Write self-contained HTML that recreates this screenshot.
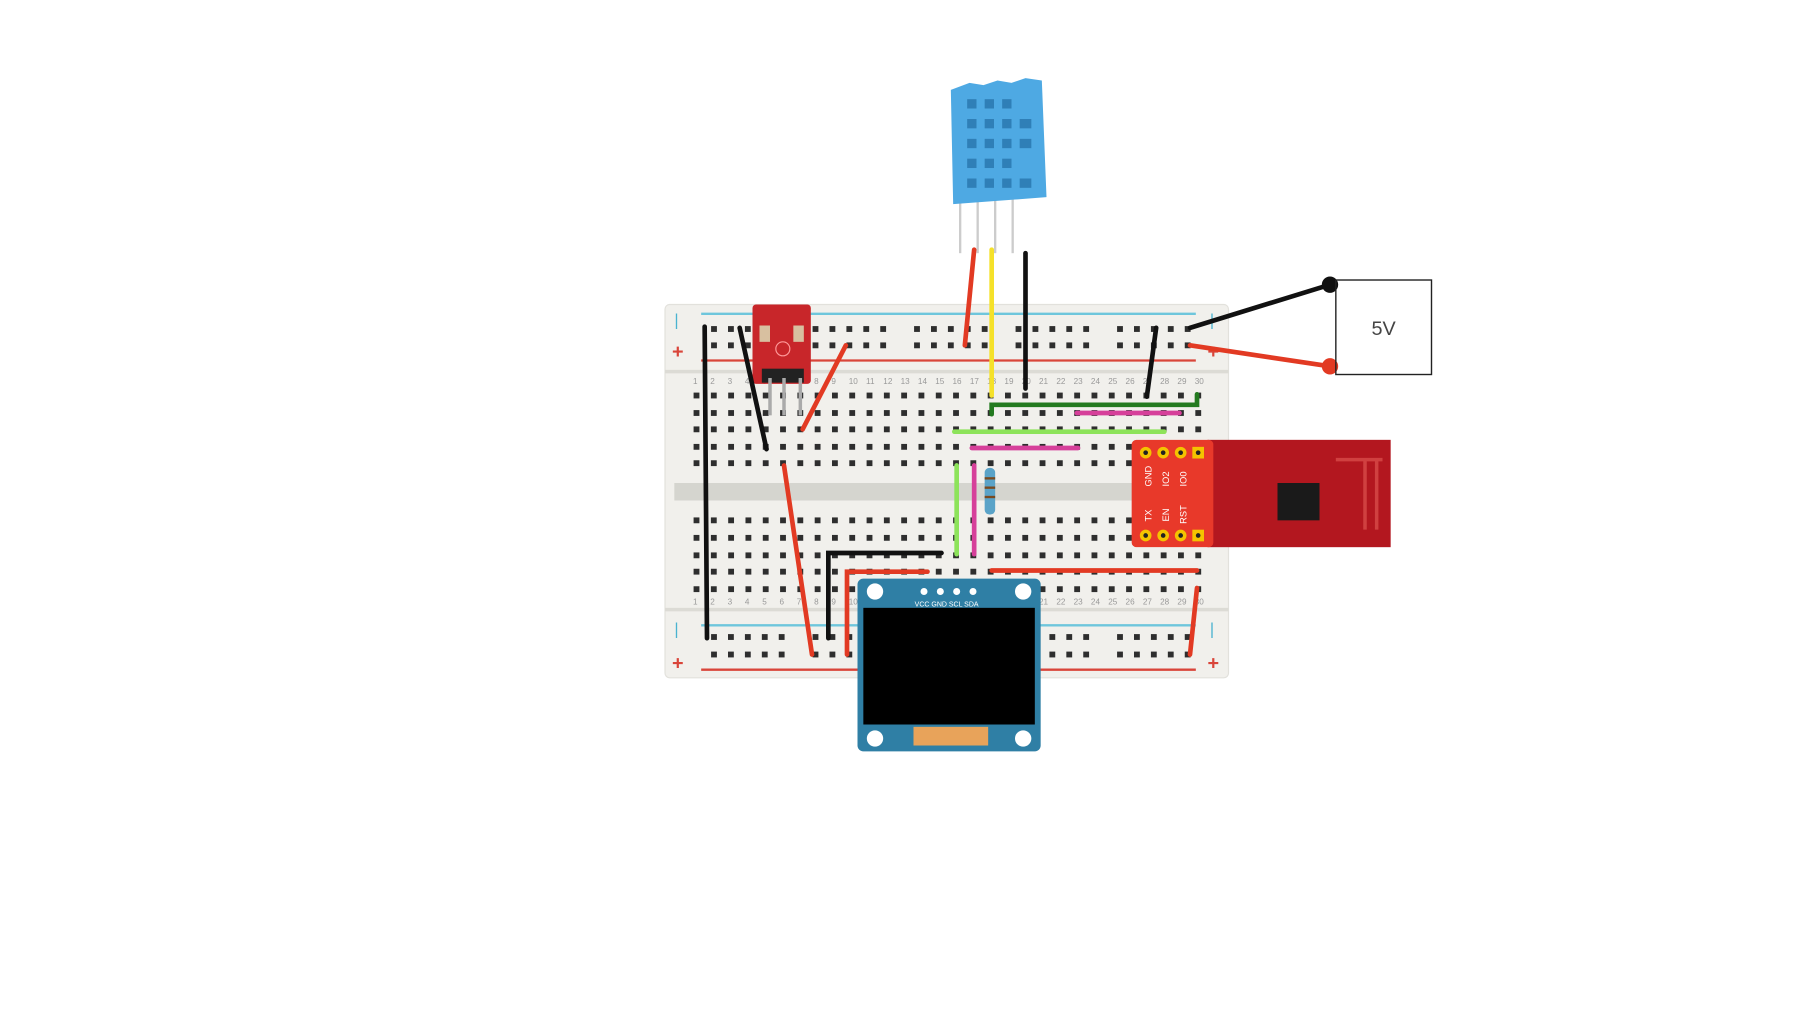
<!DOCTYPE html>
<html><head><meta charset="utf-8"><style>html,body{margin:0;padding:0;background:#fff}svg{display:block}</style></head>
<body>
<svg width="1820" height="1024" viewBox="0 0 1560 877.7" xmlns="http://www.w3.org/2000/svg" font-family="Liberation Sans, sans-serif">
<rect width="1560" height="878" fill="#fff"/>
<g transform="translate(-5,-1)">
<rect x="575" y="262" width="483" height="320" rx="4" fill="#f1f0ec" stroke="#e2e1dc"/>
<rect x="575" y="318" width="483" height="3" fill="#dcdbd5"/>
<rect x="575" y="522" width="483" height="3" fill="#dcdbd5"/>
<rect x="583" y="415" width="468" height="15" fill="#d5d5cf"/>
<line x1="606" y1="270" x2="1030" y2="270" stroke="#6ec6dc" stroke-width="2"/>
<line x1="606" y1="310" x2="1030" y2="310" stroke="#d9453a" stroke-width="2"/>
<line x1="606" y1="537" x2="1030" y2="537" stroke="#6ec6dc" stroke-width="2"/>
<line x1="606" y1="575" x2="1030" y2="575" stroke="#d9453a" stroke-width="2"/>
<text x="583" y="280" fill="#4ab3d0" font-size="14">|</text>
<text x="1042" y="280" fill="#4ab3d0" font-size="14">|</text>
<text x="581" y="308" fill="#d9453a" font-size="17" font-weight="bold">+</text>
<text x="1040" y="308" fill="#d9453a" font-size="17" font-weight="bold">+</text>
<text x="583" y="545" fill="#4ab3d0" font-size="14">|</text>
<text x="1042" y="545" fill="#4ab3d0" font-size="14">|</text>
<text x="581" y="575" fill="#d9453a" font-size="17" font-weight="bold">+</text>
<text x="1040" y="575" fill="#d9453a" font-size="17" font-weight="bold">+</text>
<g fill="#2e2e2e" id="hg"></g>
<g font-size="7" fill="#999" id="lbl"></g>
<g>
<line x1="828" y1="172" x2="828" y2="218" stroke="#ccc" stroke-width="2"/>
<line x1="843" y1="172" x2="843" y2="218" stroke="#ccc" stroke-width="2"/>
<line x1="858" y1="172" x2="858" y2="218" stroke="#ccc" stroke-width="2"/>
<line x1="873" y1="172" x2="873" y2="218" stroke="#ccc" stroke-width="2"/>
<path d="M820 78 L836 72 L848 74 L860 70 L872 72 L884 68 L898 70 L902 170 L822 176 Z" fill="#4ea9e3"/>
<g fill="#2f7fb7">
<rect x="834" y="86" width="8" height="8"/><rect x="849" y="86" width="8" height="8"/><rect x="864" y="86" width="8" height="8"/>
<rect x="834" y="103" width="8" height="8"/><rect x="849" y="103" width="8" height="8"/><rect x="864" y="103" width="8" height="8"/><rect x="879" y="103" width="10" height="8"/>
<rect x="834" y="120" width="8" height="8"/><rect x="849" y="120" width="8" height="8"/><rect x="864" y="120" width="8" height="8"/><rect x="879" y="120" width="10" height="8"/>
<rect x="834" y="137" width="8" height="8"/><rect x="849" y="137" width="8" height="8"/><rect x="864" y="137" width="8" height="8"/>
<rect x="834" y="154" width="8" height="8"/><rect x="849" y="154" width="8" height="8"/><rect x="864" y="154" width="8" height="8"/><rect x="879" y="154" width="10" height="8"/>
</g>
</g>
<rect x="650" y="262" width="50" height="68" rx="3" fill="#c8262a"/>
<circle cx="676" cy="300" r="6" fill="none" stroke="#f99" stroke-width="1"/>
<rect x="656" y="280" width="9" height="14" fill="#d8c0a0"/><rect x="685" y="280" width="9" height="14" fill="#d8c0a0"/>
<rect x="658" y="317" width="36" height="12" fill="#222"/>
<g stroke="#aaa" stroke-width="3"><line x1="665" y1="325" x2="665" y2="357"/><line x1="677" y1="325" x2="677" y2="357"/><line x1="691" y1="325" x2="691" y2="357"/></g>
<rect x="1040" y="378" width="157" height="92" fill="#b3171f"/>
<rect x="1100" y="415" width="36" height="32" fill="#1a1a1a"/>
<path d="M1150 395 h40 M1175 395 v60 M1185 395 v60" stroke="#d04040" stroke-width="3" fill="none"/>
<rect x="975" y="378" width="70" height="92" rx="4" fill="#e8392a"/>
<g fill="#f4c300"><circle cx="987" cy="389" r="5"/><circle cx="1002" cy="389" r="5"/><circle cx="1017" cy="389" r="5"/><rect x="1027" y="384" width="10" height="10"/>
<circle cx="987" cy="460" r="5"/><circle cx="1002" cy="460" r="5"/><circle cx="1017" cy="460" r="5"/><rect x="1027" y="455" width="10" height="10"/></g>
<g fill="#222"><circle cx="987" cy="389" r="2"/><circle cx="1002" cy="389" r="2"/><circle cx="1017" cy="389" r="2"/><circle cx="1032" cy="389" r="2"/><circle cx="987" cy="460" r="2"/><circle cx="1002" cy="460" r="2"/><circle cx="1017" cy="460" r="2"/><circle cx="1032" cy="460" r="2"/></g>
<g fill="#fff" font-size="8"><text transform="translate(992,418) rotate(-90)">GND</text><text transform="translate(1007,418) rotate(-90)">IO2</text><text transform="translate(1022,418) rotate(-90)">IO0</text><text transform="translate(992,448) rotate(-90)">TX</text><text transform="translate(1007,448) rotate(-90)">EN</text><text transform="translate(1022,450) rotate(-90)">RST</text></g>
<rect x="740" y="497" width="157" height="148" rx="5" fill="#2f7fa5"/>
<circle cx="755" cy="508" r="7" fill="#fff"/><circle cx="882" cy="508" r="7" fill="#fff"/><circle cx="755" cy="634" r="7" fill="#fff"/><circle cx="882" cy="634" r="7" fill="#fff"/>
<g fill="#fff"><circle cx="797" cy="508" r="3"/><circle cx="811" cy="508" r="3"/><circle cx="825" cy="508" r="3"/><circle cx="839" cy="508" r="3"/></g>
<text x="789" y="521" font-size="6" fill="#fff">VCC GND SCL SDA</text>
<rect x="745" y="522" width="147" height="100" fill="#000"/>
<rect x="788" y="624" width="64" height="16" fill="#e8a35a"/>
<g stroke-width="4" stroke-linecap="round" fill="none">
<line x1="609" y1="281" x2="611" y2="548" stroke="#111"/>
<line x1="639" y1="282" x2="662" y2="386" stroke="#111"/>
<line x1="730" y1="297" x2="693" y2="369" stroke="#e23a23"/>
<line x1="677" y1="400" x2="701" y2="562" stroke="#e23a23"/>
<polyline points="715,548 715,475 812,475" stroke="#111"/>
<polyline points="731,562 731,491 800,491" stroke="#e23a23"/>
<line x1="840" y1="215" x2="832" y2="297" stroke="#e23a23"/>
<line x1="855" y1="215" x2="855" y2="340" stroke="#f5e12a"/>
<line x1="884" y1="218" x2="884" y2="334" stroke="#111"/>
<polyline points="855,356 855,348 1031,348 1031,339" stroke="#237a1f"/>
<line x1="928" y1="355" x2="1016" y2="355" stroke="#d6409a"/>
<line x1="823" y1="371" x2="1003" y2="371" stroke="#8de35a"/>
<line x1="838" y1="385" x2="929" y2="385" stroke="#d6409a"/>
<line x1="825" y1="400" x2="825" y2="476" stroke="#8de35a"/>
<line x1="840" y1="400" x2="840" y2="476" stroke="#d6409a"/>
<line x1="855" y1="490" x2="1031" y2="490" stroke="#e23a23"/>
<line x1="1031" y1="505" x2="1025" y2="562" stroke="#e23a23"/>
<line x1="996" y1="282" x2="988" y2="341" stroke="#111"/>
<line x1="1025" y1="282" x2="1145" y2="245" stroke="#111"/>
<line x1="1025" y1="297" x2="1145" y2="315" stroke="#e23a23"/>
</g>
<rect x="849" y="402" width="9" height="40" rx="4" fill="#5aa3c8"/>
<g fill="#7a4a20"><rect x="849" y="410" width="9" height="2"/><rect x="849" y="418" width="9" height="2"/><rect x="849" y="426" width="9" height="2"/></g>
<circle cx="1145" cy="245" r="7" fill="#111"/>
<circle cx="1145" cy="315" r="7" fill="#e23a23"/>
<rect x="1150" y="241" width="82" height="81" fill="none" stroke="#222" stroke-width="1.2"/>
<text x="1191" y="288" font-size="17" fill="#444" text-anchor="middle">5V</text>
</g>
</svg>
<script>
var ns="http://www.w3.org/2000/svg",g=document.getElementById("hg"),l=document.getElementById("lbl");
function h(x,y){var r=document.createElementNS(ns,"rect");r.setAttribute("x",x-2.5);r.setAttribute("y",y-2.5);r.setAttribute("width",5);r.setAttribute("height",5);g.appendChild(r);}
var rows=[340,355,369,384,398,447,462,477,491,506];
for(var c=0;c<30;c++){var x=602+c*14.83;rows.forEach(function(y){h(x,y)});
var t=document.createElementNS(ns,"text");t.setAttribute("x",x-3);t.setAttribute("y",330);t.textContent=c+1;l.appendChild(t);
var t2=t.cloneNode(true);t2.setAttribute("y",519);l.appendChild(t2);}
for(var gi=0;gi<5;gi++){for(var k=0;k<5;k++){var x=617+gi*87+k*14.5;[283,297,547,562].forEach(function(y){h(x,y)});}}
</script>
</body></html>
